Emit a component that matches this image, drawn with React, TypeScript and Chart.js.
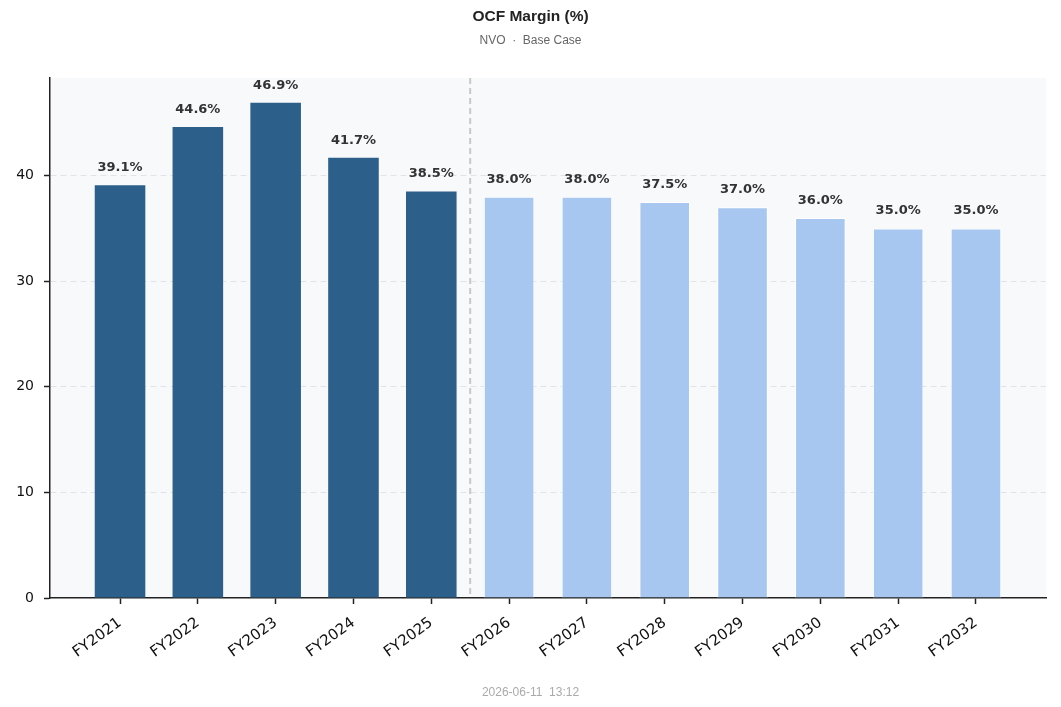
import { useEffect, useRef } from "react";
import { Chart, registerables } from "chart.js";

Chart.register(...registerables);

const categories = ["FY2021", "FY2022", "FY2023", "FY2024", "FY2025", "FY2026", "FY2027", "FY2028", "FY2029", "FY2030", "FY2031", "FY2032"];
const margins = [39.1, 44.6, 46.9, 41.7, 38.5, 38.0, 38.0, 37.5, 37.0, 36.0, 35.0, 35.0];
const projected = [false, false, false, false, false, true, true, true, true, true, true, true];
const yTicks = [0, 10, 20, 30, 40];

const HIST = "#2c5f8a";
const PROJ = "#a8c7f0";

const extras = {
  id: "extras",
  beforeDraw(chart: any) {
    const { ctx, chartArea } = chart;
    ctx.save();
    ctx.fillStyle = "#f8f9fb";
    ctx.fillRect(chartArea.left, chartArea.top, chartArea.right - chartArea.left, chartArea.bottom - chartArea.top);
    ctx.restore();
  },
  afterDatasetsDraw(chart: any) {
    const { ctx, chartArea, scales } = chart;
    const x = scales.x;
    const y = scales.y;
    // forecast divider
    const firstProj = projected.indexOf(true);
    const dx = x.getPixelForValue(firstProj - 0.5);
    ctx.save();
    ctx.strokeStyle = "#c8c8c8";
    ctx.lineWidth = 2;
    ctx.setLineDash([6, 4]);
    ctx.beginPath();
    ctx.moveTo(dx, chartArea.top);
    ctx.lineTo(dx, chartArea.bottom);
    ctx.stroke();
    ctx.restore();

    // value labels
    ctx.save();
    ctx.font = "bold 13px 'DejaVu Sans'";
    ctx.fillStyle = "#333333";
    ctx.textAlign = "center";
    ctx.textBaseline = "bottom";
    margins.forEach((v, i) => {
      ctx.fillText(v.toFixed(1) + "%", x.getPixelForValue(i), y.getPixelForValue(v) - 11);
    });
    ctx.restore();

    // titles and footer
    const w = chart.width;
    ctx.save();
    ctx.textAlign = "center";
    ctx.textBaseline = "middle";
    ctx.fillStyle = "#222222";
    ctx.font = "bold 15.5px 'Liberation Sans'";
    ctx.fillText("OCF Margin (%)", w / 2, 17);
    ctx.fillStyle = "#666666";
    ctx.font = "12px 'Liberation Sans'";
    ctx.fillText("NVO  ·  Base Case", w / 2, 41);
    ctx.fillStyle = "#aaaaaa";
    ctx.fillText("2026-06-11  13:12", w / 2, 693);
    ctx.restore();
  },
};

const OcfChart = () => {
  const chartRef: any = useRef(null);
  useEffect(() => {
    const ctx = chartRef.current.getContext("2d");
    const theChart = new Chart(ctx, {
      type: "bar",
      data: {
        datasets: [
          {
            data: margins.map((v, i) => ({ x: i, y: v })),
            backgroundColor: projected.map((p) => (p ? PROJ : HIST)),
            borderColor: projected.map((p) => (p ? "#ffffff" : HIST)),
            borderWidth: projected.map((p) => (p ? 1 : 0)),
            barPercentage: 0.65,
            categoryPercentage: 1,
          },
        ],
      },
      options: {
        animation: false,
        responsive: true,
        maintainAspectRatio: false,
        layout: { padding: { top: 78, right: 15, left: 0, bottom: 0 } },
        plugins: {
          legend: { display: false },
          tooltip: { enabled: false },
        },
        scales: {
          x: {
            type: "linear",
            offset: false,
            min: -0.9,
            max: categories.length - 0.1,
            afterBuildTicks: (scale: any) => {
              scale.ticks = categories.map((_, i) => ({ value: i }));
            },
            afterFit: (scale: any) => {
              scale.height = 109;
            },
            ticks: {
              autoSkip: false,
              maxRotation: 36,
              minRotation: 36,
              color: "#111111",
              font: { family: "'DejaVu Sans'", size: 15 },
              padding: 10,
              callback: (v: any) => categories[v] ?? "",
            },
            grid: {
              offset: false,
              drawOnChartArea: false,
              drawTicks: true,
              tickLength: 6,
              tickColor: "#222222",
              tickWidth: 1.5,
            },
            border: { display: true, color: "#222222", width: 1.5 },
          },
          y: {
            min: 0,
            max: 49.25,
            afterBuildTicks: (scale: any) => {
              scale.ticks = yTicks.map((v) => ({ value: v }));
            },
            afterFit: (scale: any) => {
              scale.width = 50;
            },
            ticks: {
              color: "#111111",
              font: { family: "'DejaVu Sans'", size: 14 },
              padding: 10,
            },
            grid: {
              color: (c: any) => (c.tick && c.tick.value === 0 ? "rgba(0,0,0,0)" : "#e1e3e6"),
              lineWidth: 1,
              drawTicks: true,
              tickLength: 6,
              tickColor: "#222222",
              tickWidth: 1.5,
            },
            border: { display: true, color: "#222222", width: 1.5, dash: [6, 4] },
          },
        },
      },
      plugins: [extras],
    } as any);
    return () => {
      theChart.destroy();
    };
  }, []);

  return <canvas ref={chartRef} />;
};

export default function App() {
  return (
    <div style={{ position: "absolute", left: 0, top: 0, width: 1061, height: 707, background: "#ffffff" }}>
      <OcfChart />
    </div>
  );
}
